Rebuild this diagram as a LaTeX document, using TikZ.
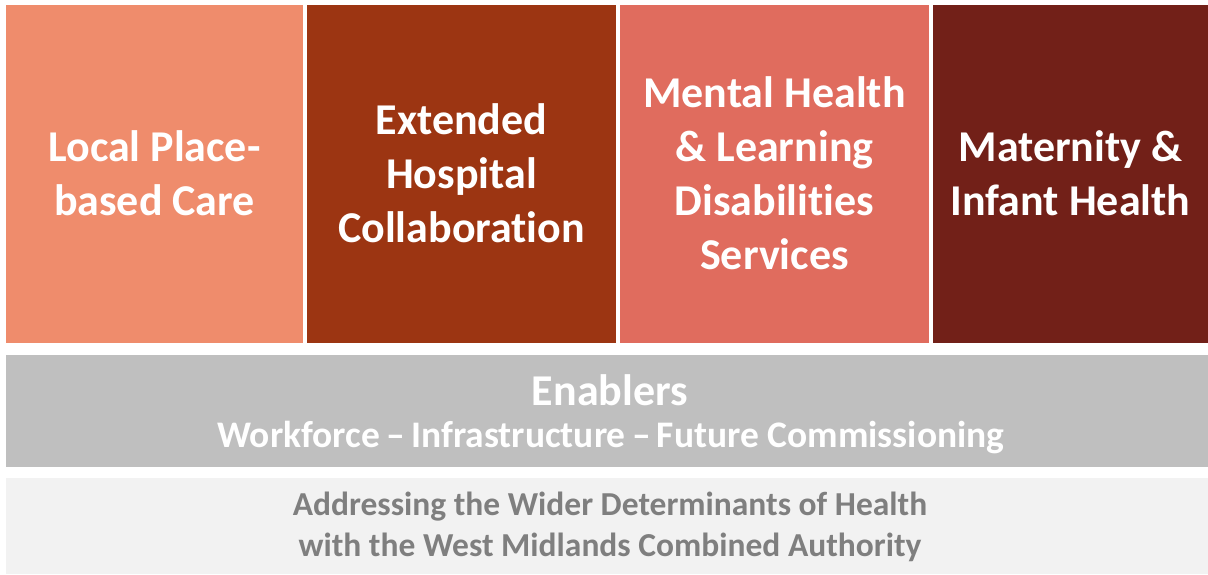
\documentclass[tikz,border=0pt]{standalone}
\usepackage{fontspec}
\setmainfont{Carlito}[Ligatures=NoCommon]
\definecolor{cLocal}{HTML}{EF8C6C}
\definecolor{cHosp}{HTML}{9C3512}
\definecolor{cMental}{HTML}{E06C5E}
\definecolor{cMat}{HTML}{722018}
\definecolor{cEnab}{HTML}{BFBFBF}
\definecolor{cWider}{HTML}{F2F2F2}
\definecolor{cText}{HTML}{7F7F7F}
\begin{document}
\begin{tikzpicture}[x=1pt,y=-1pt,
  pillar/.style={anchor=north west, inner sep=0pt, outer sep=0pt, minimum height=338pt},
  band/.style={anchor=north west, inner sep=0pt, outer sep=0pt, minimum width=1202pt},
  lbl/.style={inner sep=0pt, align=center},
  bigtxt/.style={lbl, text=white, font=\fontsize{44}{54}\selectfont\bfseries}
]
\useasboundingbox (0,0) rectangle (1208,574);
\fill[white] (0,0) rectangle (1208,574);
\node[pillar, fill=cLocal, minimum width=297pt] (local) at (6,5) {};
\node[pillar, fill=cHosp, minimum width=309pt] (hosp) at (307,5) {};
\node[pillar, fill=cMental, minimum width=309pt] (mental) at (620,5) {};
\node[pillar, fill=cMat, minimum width=275pt] (mat) at (933,5) {};
\node[bigtxt] (tlocal) at ([yshift=1pt]local.center) {Local Place-\\based Care};
\node[bigtxt] (thosp) at ([yshift=1pt]hosp.center) {Extended\\Hospital\\Collaboration};
\node[bigtxt] (tmental) at ([yshift=1pt]mental.center) {Mental Health\\\& Learning\\Disabilities\\Services};
\node[bigtxt] (tmat) at ([yshift=1pt]mat.center) {Maternity \&\\Infant Health};
\node[band, fill=cEnab, minimum height=112pt] (enab) at (6,355) {};
\node[bigtxt] (tenab) at (610,390) {Enablers};
\node[lbl, text=white, font=\fontsize{37.5}{45}\selectfont\bfseries] (twork) at (611,438) {Workforce\,--\,Infrastructure\,--\,Future Commissioning};
\node[band, fill=cWider, minimum height=96pt] (wider) at (6,478) {};
\node[lbl, text=cText, font=\fontsize{33.5}{41}\selectfont\bfseries] (twider) at (610,527) {Addressing the Wider Determinants of Health\\with the West Midlands Combined Authority};
\end{tikzpicture}
\end{document}
